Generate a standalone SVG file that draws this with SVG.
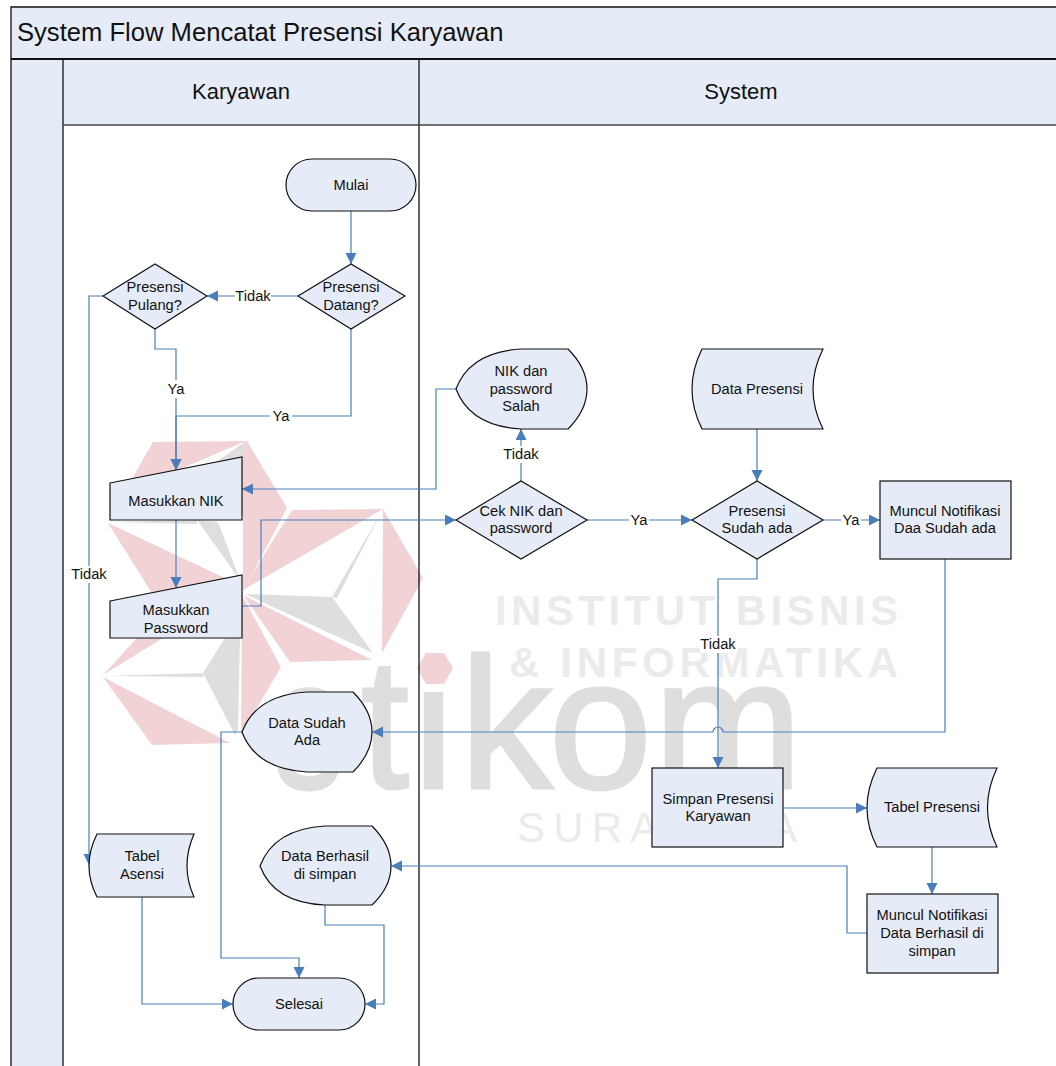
<svg xmlns="http://www.w3.org/2000/svg" width="1056" height="1066" viewBox="0 0 1056 1066">
<style>
text{font-family:"Liberation Sans",Arial,sans-serif;fill:#111}
.t{font-size:14.67px;text-anchor:middle}
.h{font-size:22px;text-anchor:middle}
.s{fill:#e6ecf7;stroke:#111;stroke-width:1.2}
.c{fill:none;stroke:#4a7ebb;stroke-width:1.2}
.b{fill:#fff}
.p{fill:#f2d3d5}
.g{fill:#dedede}
.w{font-size:42px;font-weight:bold;fill:#ebebeb}
.l{font-size:185px;fill:#dedede;stroke:#dedede;stroke-width:3}
.band{fill:#e6ecf7}
.ln{stroke:#111;stroke-width:1.3;fill:none}
</style>
<defs>
<marker id="a" markerUnits="userSpaceOnUse" markerWidth="12" markerHeight="12" refX="11" refY="5.5" orient="auto"><path d="M0,0L11,5.5L0,11Z" fill="#4a7ebb"/></marker>
<clipPath id="ci"><rect x="410" y="692" width="50" height="110"/></clipPath>
</defs>
<rect width="1056" height="1066" fill="#fff"/>
<g id="swimlanes">
<rect class="band" x="11" y="7" width="1045" height="52"/>
<rect class="band" x="11" y="59" width="52" height="1007"/>
<rect class="band" x="63" y="59" width="993" height="66"/>
</g>
<g id="watermark">
<polygon class="p" points="153,442 247,441 287,508 243,592 243,515 133,515 133,477"/>
<polygon class="b" points="246,441 178,470 215,463"/>
<polygon class="g" points="246,442 215,463 243,458"/>
<polygon class="p" points="292,510 383,509 243,590 267,550"/>
<polygon class="p" points="383,509 423,578 382,653"/>
<polygon class="g" points="245,594 332,597 373,653"/>
<polygon class="g" points="382,511 332,597 337,598"/>
<polygon class="p" points="243,595 372,660 290,662"/>
<polygon class="p" points="242,595 281,667 241,735"/>
<polygon class="p" points="108,523 240,585 163,638 103,675 137,638 160,606"/>
<polygon class="g" points="108,522 197,520 197,524"/>
<polygon class="g" points="197,520 240,580 218,522"/>
<polygon class="p" points="103,677 230,743 152,745"/>
<polygon class="g" points="203,673 225,638 240,638 238,730 235,735"/>
<polygon class="g" points="103,676 203,673 204,677"/>
<polygon class="p" points="426,653 444,653 453,668 444,684 426,684 417,668"/>
<text class="l" x="274" y="788" textLength="70" lengthAdjust="spacingAndGlyphs">s</text>
<text class="l" x="361" y="788" textLength="48" lengthAdjust="spacingAndGlyphs">t</text>
<g clip-path="url(#ci)"><text class="l" x="413" y="788">i</text></g>
<text class="l" x="460" y="788">k</text>
<text class="l" x="549" y="788">o</text>
<text class="l" x="654" y="788" textLength="148" lengthAdjust="spacingAndGlyphs">m</text>
<text class="w" x="495" y="625" textLength="403">INSTITUT BISNIS</text>
<text class="w" x="509" y="677" textLength="389">&amp; INFORMATIKA</text>
<text class="w" x="517" y="842" textLength="280" style="font-weight:normal">SURABAYA</text>
</g>
<g id="lane-lines">
<path class="ln" d="M1056,7H11V1066"/>
<path class="ln" d="M11,59H1056" style="stroke-width:2"/>
<path class="ln" d="M63,59V1066"/>
<path class="ln" d="M419,59V1066"/>
<path class="ln" d="M63,125H1056" style="stroke:#444;stroke-width:1.6"/>
<text x="17" y="41" style="font-size:25.6px">System Flow Mencatat Presensi Karyawan</text>
<text class="h" x="241" y="99">Karyawan</text>
<text class="h" x="741" y="99">System</text>
</g>
<g id="connectors">
<path class="c" marker-end="url(#a)" d="M351,211V264"/>
<path class="c" marker-end="url(#a)" d="M298,296H207"/>
<path class="c" marker-end="url(#a)" d="M155,329V349H176V470"/>
<path class="c" marker-end="url(#a)" d="M351,329V416H176V470"/>
<path class="c" marker-end="url(#a)" d="M103,296H89V865"/>
<path class="c" marker-end="url(#a)" d="M176,520V588"/>
<path class="c" marker-end="url(#a)" d="M242,606H261V520H456"/>
<path class="c" marker-end="url(#a)" d="M456,389H436V489H242"/>
<path class="c" marker-end="url(#a)" d="M521,481V429"/>
<path class="c" marker-end="url(#a)" d="M587,520H692"/>
<path class="c" marker-end="url(#a)" d="M757,428V481"/>
<path class="c" marker-end="url(#a)" d="M823,520H880"/>
<path class="c" marker-end="url(#a)" d="M757,559V579H718V768"/>
<path class="c" marker-end="url(#a)" d="M945,559V732H723A5,5 0 0 0 713,732H372"/>
<path class="c" marker-end="url(#a)" d="M783,808H867"/>
<path class="c" marker-end="url(#a)" d="M932,847V894"/>
<path class="c" marker-end="url(#a)" d="M867,933H847V866H391"/>
<path class="c" marker-end="url(#a)" d="M242,732H221V958H299V978"/>
<path class="c" marker-end="url(#a)" d="M142,897V1004H233"/>
<path class="c" marker-end="url(#a)" d="M325,905V925H384V1004H365"/>
</g>
<g id="edge-labels">
<rect class="b" x="235" y="288" width="36" height="17"/><text class="t" x="253" y="301">Tidak</text>
<rect class="b" x="166" y="380" width="20" height="18"/><text class="t" x="176" y="394">Ya</text>
<rect class="b" x="270" y="408" width="22" height="16"/><text class="t" x="281" y="421">Ya</text>
<rect class="b" x="71" y="566" width="36" height="17"/><text class="t" x="89" y="579">Tidak</text>
<rect class="b" x="503" y="446" width="36" height="17"/><text class="t" x="521" y="459">Tidak</text>
<rect class="b" x="629" y="512" width="20" height="17"/><text class="t" x="639" y="525">Ya</text>
<rect class="b" x="841" y="512" width="20" height="17"/><text class="t" x="851" y="525">Ya</text>
<rect class="b" x="700" y="636" width="36" height="17"/><text class="t" x="718" y="649">Tidak</text>
</g>
<g id="mulai"><rect class="s" x="286" y="159" width="130" height="52" rx="26"/><text class="t" x="351" y="190">Mulai</text></g>
<g id="presensi-datang"><polygon class="s" points="298,296 351,264 405,296 351,329"/><text class="t" x="351" y="292">Presensi</text><text class="t" x="351" y="310">Datang?</text></g>
<g id="presensi-pulang"><polygon class="s" points="103,296 155,264 207,296 155,329"/><text class="t" x="155" y="292">Presensi</text><text class="t" x="155" y="310">Pulang?</text></g>
<g id="masukkan-nik"><polygon class="s" points="110,483 242,457 242,520 110,520"/><text class="t" x="176" y="506">Masukkan NIK</text></g>
<g id="masukkan-password"><polygon class="s" points="110,601 242,575 242,638 110,638"/><text class="t" x="176" y="615">Masukkan</text><text class="t" x="176" y="633">Password</text></g>
<g id="nik-salah"><path class="s" d="M456,389Q470,352 521,349H568Q587,368 587,389Q587,410 568,429H521Q470,426 456,389Z"/><text class="t" x="521" y="376">NIK dan</text><text class="t" x="521" y="394">password</text><text class="t" x="521" y="411">Salah</text></g>
<g id="data-presensi"><path class="s" d="M702,349H823Q803,389 823,429H702Q682,389 702,349Z"/><text class="t" x="757" y="394">Data Presensi</text></g>
<g id="cek-nik"><polygon class="s" points="456,520 521,481 587,520 521,559"/><text class="t" x="521" y="516">Cek NIK dan</text><text class="t" x="521" y="533">password</text></g>
<g id="presensi-sudah"><polygon class="s" points="692,520 757,481 823,520 757,559"/><text class="t" x="757" y="516">Presensi</text><text class="t" x="757" y="533">Sudah ada</text></g>
<g id="notif-sudah"><rect class="s" x="880" y="481" width="131" height="78"/><text class="t" x="945" y="516">Muncul Notifikasi</text><text class="t" x="945" y="533">Daa Sudah ada</text></g>
<g id="data-sudah"><path class="s" d="M242,732Q256,695 307,692H353Q372,711 372,732Q372,753 353,772H307Q256,769 242,732Z"/><text class="t" x="307" y="728">Data Sudah</text><text class="t" x="307" y="745">Ada</text></g>
<g id="simpan"><rect class="s" x="652" y="768" width="131" height="79"/><text class="t" x="718" y="804">Simpan Presensi</text><text class="t" x="718" y="821">Karyawan</text></g>
<g id="tabel-presensi"><path class="s" d="M877,768H997Q978,808 997,847H877Q857,808 877,768Z"/><text class="t" x="932" y="812">Tabel Presensi</text></g>
<g id="notif-berhasil"><rect class="s" x="867" y="894" width="131" height="79"/><text class="t" x="932" y="920">Muncul Notifikasi</text><text class="t" x="932" y="938">Data Berhasil di</text><text class="t" x="932" y="956">simpan</text></g>
<g id="tabel-asensi"><path class="s" d="M97,834H194Q180,866 194,897H97Q81,866 97,834Z"/><text class="t" x="142" y="861">Tabel</text><text class="t" x="142" y="879">Asensi</text></g>
<g id="data-berhasil"><path class="s" d="M260,866Q274,829 325,826H372Q391,845 391,866Q391,887 372,905H325Q274,903 260,866Z"/><text class="t" x="325" y="861">Data Berhasil</text><text class="t" x="325" y="879">di simpan</text></g>
<g id="selesai"><rect class="s" x="233" y="978" width="132" height="52" rx="26"/><text class="t" x="299" y="1009">Selesai</text></g>
</svg>
